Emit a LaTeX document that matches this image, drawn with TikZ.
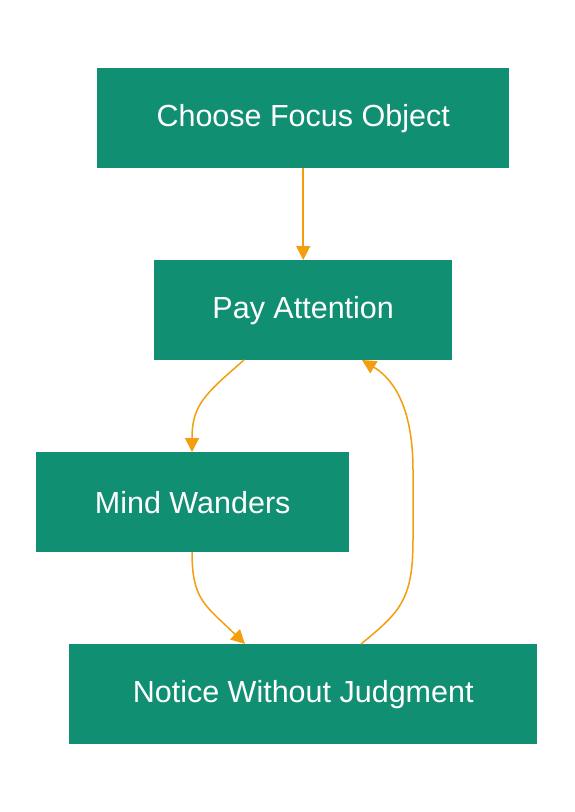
\documentclass[tikz,border=0pt]{standalone}
\usepackage{fontspec}
\setmainfont{Liberation Sans}
\usetikzlibrary{arrows.meta}
\definecolor{boxteal}{HTML}{118F72}
\definecolor{edgeorange}{HTML}{F29E0E}
\begin{document}
\begin{tikzpicture}[x=1pt,y=-1pt,
  stepbox/.style={fill=boxteal,draw=none,text=white,font=\fontsize{30.5}{36}\selectfont,inner sep=0pt,anchor=north west},
  flow/.style={draw=edgeorange,line width=1.5pt,-{Triangle[length=14pt,width=14pt]}}]
\useasboundingbox (0,0) rectangle (574,812);
\node[stepbox,minimum width=412pt,minimum height=100pt] (a) at (97,68) {Choose Focus Object};
\node[stepbox,minimum width=298pt,minimum height=100pt] (b) at (154,260) {Pay Attention};
\node[stepbox,minimum width=313pt,minimum height=100pt] (c) at (36,452) {Mind Wanders};
\node[stepbox,minimum width=468pt,minimum height=100pt] (d) at (69,644) {Notice Without Judgment};
\coordinate (bL) at (244,360);
\coordinate (cT) at (192,452);
\coordinate (cB) at (192,552);
\coordinate (dL) at (245,644);
\coordinate (dR) at (361,644);
\coordinate (bR) at (362,360);
\draw[flow] (a.south) -- (b.north);
\draw[flow] (bL) .. controls (205,394) and (192,405) .. (cT);
\draw[flow] (cB) .. controls (192,600) and (205,605) .. (dL);
\draw[flow] (dR) .. controls (400,612) and (413,600) .. (413,540) -- (413,470) .. controls (413,410) and (395,380) .. (bR);
\end{tikzpicture}
\end{document}
